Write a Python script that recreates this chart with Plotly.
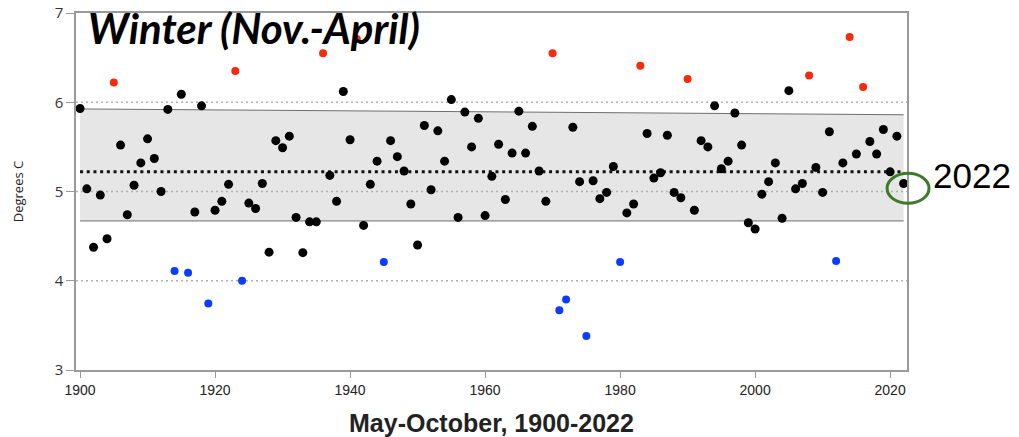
import plotly.graph_objects as go

# ---------------- data ----------------
years = list(range(1900, 2023))
temps = [
    5.93, 5.03, 4.375, 4.96, 4.47, 6.22, 5.52, 4.74, 5.07, 5.32,   # 1900-1909
    5.59, 5.37, 5.00, 5.92, 4.11, 6.09, 4.09, 4.77, 5.96, 3.745,   # 1910-1919
    4.79, 4.89, 5.08, 6.35, 4.00, 4.87, 4.81, 5.09, 4.32, 5.57,    # 1920-1929
    5.49, 5.62, 4.71, 4.315, 4.66, 4.66, 6.55, 5.18, 4.89, 6.12,   # 1930-1939
    5.58, 6.71, 4.62, 5.08, 5.34, 4.21, 5.57, 5.39, 5.23, 4.86,    # 1940-1949
    4.40, 5.74, 5.02, 5.68, 5.34, 6.03, 4.71, 5.89, 5.50, 5.82,    # 1950-1959
    4.73, 5.17, 5.53, 4.91, 5.43, 5.90, 5.43, 5.73, 5.23, 4.89,    # 1960-1969
    6.55, 3.67, 3.79, 5.72, 5.11, 3.38, 5.12, 4.92, 4.99, 5.28,    # 1970-1979
    4.21, 4.76, 4.86, 6.41, 5.65, 5.15, 5.21, 5.63, 4.99, 4.93,    # 1980-1989
    6.26, 4.79, 5.57, 5.50, 5.96, 5.255, 5.34, 5.88, 5.52, 4.65,   # 1990-1999
    4.58, 4.97, 5.11, 5.32, 4.70, 6.13, 5.03, 5.09, 6.30, 5.27,    # 2000-2009
    4.99, 5.67, 4.22, 5.32, 6.73, 5.42, 6.17, 5.56, 5.42, 5.695,   # 2010-2019
    5.22, 5.62, 5.09,                                              # 2020-2022
]
warm_years = [1905, 1923, 1936, 1941, 1970, 1983, 1990, 2008, 2014, 2016]
cold_years = [1914, 1916, 1919, 1924, 1945, 1971, 1972, 1975, 1980, 2012]

band_years = [1900, 2022]
band_upper = [5.925, 5.86]
band_lower = [4.67, 4.67]
mean_value = 5.22

x_ticks = [1900, 1920, 1940, 1960, 1980, 2000, 2020]
y_ticks = [3, 4, 5, 6, 7]
x_range = [1899.4, 2022.5]
y_range = [3, 7]

title_text = "Winter (Nov.-April)"
x_title = "May-October, 1900-2022"
y_title = "Degrees C"
callout_text = "2022"

# ---------------- split points ----------------
temp_by_year = dict(zip(years, temps))
normal_x = [y for y in years if y not in warm_years and y not in cold_years]
normal_y = [temp_by_year[y] for y in normal_x]
warm_y = [temp_by_year[y] for y in warm_years]
cold_y = [temp_by_year[y] for y in cold_years]

fig = go.Figure()

# band
fig.add_trace(go.Scatter(x=band_years, y=band_lower, mode="lines",
                         line=dict(color="#6e6e6e", width=1), hoverinfo="skip",
                         showlegend=False))
fig.add_trace(go.Scatter(x=band_years, y=band_upper, mode="lines",
                         line=dict(color="#6e6e6e", width=1), fill="tonexty",
                         fillcolor="#e6e6e6", hoverinfo="skip", showlegend=False))

# dotted grid lines (drawn above the band)
for v in y_ticks[1:-1]:
    fig.add_trace(go.Scatter(x=x_range, y=[v, v], mode="lines",
                             line=dict(color="#b0b0b0", width=1.5, dash="2px,3px"),
                             hoverinfo="skip", showlegend=False))

# mean line
fig.add_trace(go.Scatter(x=band_years, y=[mean_value, mean_value], mode="lines",
                         line=dict(color="#111111", width=3, dash="3px,3.7px"),
                         hoverinfo="skip", showlegend=False))

# points
fig.add_trace(go.Scatter(x=normal_x, y=normal_y, mode="markers",
                         marker=dict(color="#000000", size=9), showlegend=False))
fig.add_trace(go.Scatter(x=warm_years, y=warm_y, mode="markers",
                         marker=dict(color="#f72a0c", size=8), showlegend=False))
fig.add_trace(go.Scatter(x=cold_years, y=cold_y, mode="markers",
                         marker=dict(color="#0d3cff", size=8), showlegend=False))

axis_line = "#9a9a9a"
fig.update_layout(
    width=1019, height=437,
    margin=dict(l=76, r=112, t=13, b=67),
    paper_bgcolor="white", plot_bgcolor="white",
    showlegend=False,
    xaxis=dict(range=x_range, tickvals=x_ticks, showgrid=False, zeroline=False,
               automargin=False,
               showline=True, mirror=True, linecolor=axis_line, linewidth=1.5,
               ticks="outside", ticklen=6, tickcolor=axis_line, tickwidth=1,
               tickfont=dict(family="Liberation Sans", size=14, color="#222222"),
               title=dict(text=x_title, standoff=18,
                          font=dict(family="Liberation Sans", size=25, color="#222222",
                                    weight="bold"))),
    yaxis=dict(range=y_range, tickvals=y_ticks, showgrid=False, zeroline=False,
               automargin=False,
               showline=True, mirror=True, linecolor=axis_line, linewidth=1.5,
               ticks="outside", ticklen=8, tickcolor=axis_line, tickwidth=1,
               tickfont=dict(family="Open Sans", size=15, color="#333333"),
               title=dict(text=y_title, standoff=28,
                          font=dict(family="Open Sans", size=13, color="#222222"))),
    annotations=[
        dict(text=title_text, xref="paper", yref="paper", x=0.0125, y=0.958,
             xanchor="left", yanchor="middle", showarrow=False,
             font=dict(family="Lato", size=42, color="#000000", weight="bold",
                       style="italic")),
        dict(text=callout_text, xref="paper", yref="paper", x=1.078, y=0.546,
             xanchor="center", yanchor="middle", showarrow=False,
             font=dict(family="Liberation Sans", size=35, color="#000000")),
    ],
    shapes=[
        dict(type="circle", xref="paper", yref="paper",
             x0=0.976, x1=1.0265, y0=0.467, y1=0.551,
             line=dict(color="#3d7a27", width=3)),
    ],
)

fig.write_html("out.html", config={"displayModeBar": False},
               post_script="document.body.style.margin='0';")
